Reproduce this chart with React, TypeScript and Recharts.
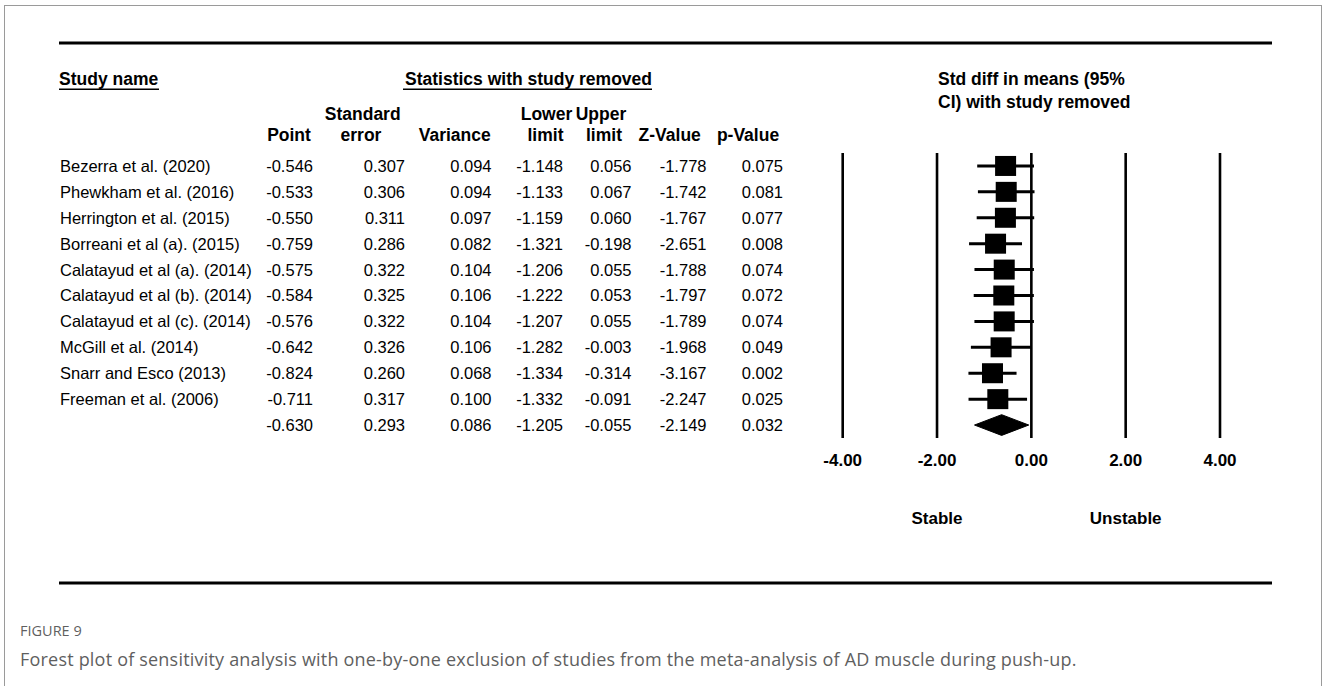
import React from "react";
import {
	Area,
	ComposedChart,
	ErrorBar,
	ReferenceLine,
	Scatter,
	XAxis,
	YAxis,
} from "recharts";

// rows of the sensitivity table, last row is the combined estimate
const studies = [
	"Bezerra et al. (2020)",
	"Phewkham et al. (2016)",
	"Herrington et al. (2015)",
	"Borreani et al (a). (2015)",
	"Calatayud et al (a). (2014)",
	"Calatayud et al (b). (2014)",
	"Calatayud et al (c). (2014)",
	"McGill et al. (2014)",
	"Snarr and Esco (2013)",
	"Freeman et al. (2006)",
	"",
];
const points = [-0.546, -0.533, -0.55, -0.759, -0.575, -0.584, -0.576, -0.642, -0.824, -0.711, -0.63];
const standardErrors = [0.307, 0.306, 0.311, 0.286, 0.322, 0.325, 0.322, 0.326, 0.26, 0.317, 0.293];
const variances = [0.094, 0.094, 0.097, 0.082, 0.104, 0.106, 0.104, 0.106, 0.068, 0.1, 0.086];
const lowerLimits = [-1.148, -1.133, -1.159, -1.321, -1.206, -1.222, -1.207, -1.282, -1.334, -1.332, -1.205];
const upperLimits = [0.056, 0.067, 0.06, -0.198, 0.055, 0.053, 0.055, -0.003, -0.314, -0.091, -0.055];
const zValues = [-1.778, -1.742, -1.767, -2.651, -1.788, -1.797, -1.789, -1.968, -3.167, -2.247, -2.149];
const pValues = [0.075, 0.081, 0.077, 0.008, 0.074, 0.072, 0.074, 0.049, 0.002, 0.025, 0.032];

const xTicks = [-4, -2, 0, 2, 4];
const sideLabels: Record<string, string> = { "-2": "Stable", "2": "Unstable" };

const FONT = '"Liberation Sans", Arial, sans-serif';
const FS = 16.5;
const HFS = 17.5;
const ROWS = studies.length;
const ROW_TOP = 153;
const ROW_H = 25.9;
const DIAMOND_HALF = 0.4;

const last = ROWS - 1;
const squareData = studies.slice(0, last).map((_, i) => ({
	x: points[i],
	y: i + 0.5,
	err: [points[i] - lowerLimits[i], upperLimits[i] - points[i]],
}));
const diamondData = [
	{ x: lowerLimits[last], range: [last + 0.5, last + 0.5] },
	{ x: points[last], range: [last + 0.5 - DIAMOND_HALF, last + 0.5 + DIAMOND_HALF] },
	{ x: upperLimits[last], range: [last + 0.5, last + 0.5] },
];

// numeric columns: right edge of values, header lines with their centres
const columns = [
	{ values: points, right: 313, head: [["", 0], ["Point", 289]] },
	{ values: standardErrors, right: 405, head: [["Standard", 362.7], ["error", 361]] },
	{ values: variances, right: 491.5, head: [["", 0], ["Variance", 454.7]] },
	{ values: lowerLimits, right: 563, head: [["Lower", 546.5], ["limit", 545.5]] },
	{ values: upperLimits, right: 631.5, head: [["Upper", 601], ["limit", 604]] },
	{ values: zValues, right: 706.5, head: [["", 0], ["Z-Value", 669.7]] },
	{ values: pValues, right: 783, head: [["", 0], ["p-Value", 748]] },
];

const Square = (p: any) => (
	<rect x={p.cx - 10.5} y={p.cy - 10} width={21} height={20} fill="#000" />
);

const AxisTick = (p: any) => {
	const v = p.payload.value;
	const side = sideLabels[String(v)];
	return (
		<g>
			<text x={p.x} y={p.y} dy={20} textAnchor="middle" fontFamily={FONT} fontSize={17} fontWeight="bold" fill="#000">
				{v.toFixed(2)}
			</text>
			{side && (
				<text x={p.x} y={p.y} dy={78} textAnchor="middle" fontFamily={FONT} fontSize={17} fontWeight="bold" fill="#000">
					{side}
				</text>
			)}
		</g>
	);
};

export default function App() {
	const rowBase = (i: number) => ROW_TOP + (i + 0.5) * ROW_H + 6;
	return (
		<div style={{ position: "absolute", left: 0, top: 0, width: 1328, height: 686, background: "#fff", overflow: "hidden" }}>
			<div style={{ position: "absolute", left: 4, top: 5, width: 1318, height: 700, border: "1px solid #9a9a9a", boxSizing: "border-box" }} />
			<svg width={1328} height={686} style={{ position: "absolute", left: 0, top: 0 }}>
				<rect x={59} y={41.5} width={1213} height={3} fill="#000" />
				<rect x={59} y={581.5} width={1213} height={3} fill="#000" />
				<g fontFamily={FONT} fontSize={FS} fill="#000">
					<g fontSize={HFS} fontWeight="bold">
						<text x={59} y={85}>Study name</text>
						<rect x={59} y={88.5} width={100} height={1.5} fill="#000" />
						<text x={405} y={85}>Statistics with study removed</text>
						<rect x={403} y={88.5} width={249} height={1.5} fill="#000" />
						<text x={938} y={85}>Std diff in means (95%</text>
						<text x={938} y={108}>CI) with study removed</text>
						{columns.map((c, ci) =>
							c.head.map(([t, cx], li) =>
								t ? (
									<text key={ci + "-" + li} x={cx as number} y={li === 0 ? 120 : 141} textAnchor="middle">
										{t}
									</text>
								) : null
							)
						)}
					</g>
					{columns.map((c, ci) => (
						<g key={ci}>
							{c.values.map((v, i) => (
								<text key={i} x={c.right} y={rowBase(i)} textAnchor="end">
									{v.toFixed(3)}
								</text>
							))}
						</g>
					))}
					{studies.map((s, i) => (
						<text key={i} x={60} y={rowBase(i)}>
							{s}
						</text>
					))}
				</g>
			</svg>
			<div style={{ position: "absolute", left: 0, top: 0 }}>
				<ComposedChart
					width={1328}
					height={686}
					data={diamondData}
					margin={{ top: ROW_TOP, right: 108, bottom: 168, left: 842.7 }}
				>
					<XAxis
						type="number"
						dataKey="x"
						domain={[-4, 4]}
						ticks={xTicks}
						axisLine={false}
						tickLine={false}
						height={80}
						tick={<AxisTick />}
						interval={0}
					/>
					<YAxis type="number" dataKey="y" domain={[0, ROWS]} reversed hide />
					{xTicks.map((t) => (
						<ReferenceLine key={t} x={t} stroke="#000" strokeWidth={2.6} />
					))}
					<Area
						type="linear"
						dataKey="range"
						stroke="#000"
						strokeWidth={1}
						fill="#000"
						fillOpacity={1}
						dot={false}
						activeDot={false}
						isAnimationActive={false}
					/>
					<Scatter data={squareData} shape={<Square />} isAnimationActive={false}>
						<ErrorBar dataKey="err" direction="x" width={0} strokeWidth={3} stroke="#000" />
					</Scatter>
				</ComposedChart>
			</div>
			<div style={{ position: "absolute", left: 20, top: 621, fontFamily: '"Open Sans", sans-serif', fontSize: 14.5, color: "#5f5f5f" }}>
				FIGURE 9
			</div>
			<div style={{ position: "absolute", left: 20, top: 647, fontFamily: '"Open Sans", sans-serif', fontSize: 18, letterSpacing: 0.2, color: "#5f5f5f", whiteSpace: "nowrap" }}>
				Forest plot of sensitivity analysis with one-by-one exclusion of studies from the meta-analysis of AD muscle during push-up.
			</div>
		</div>
	);
}
